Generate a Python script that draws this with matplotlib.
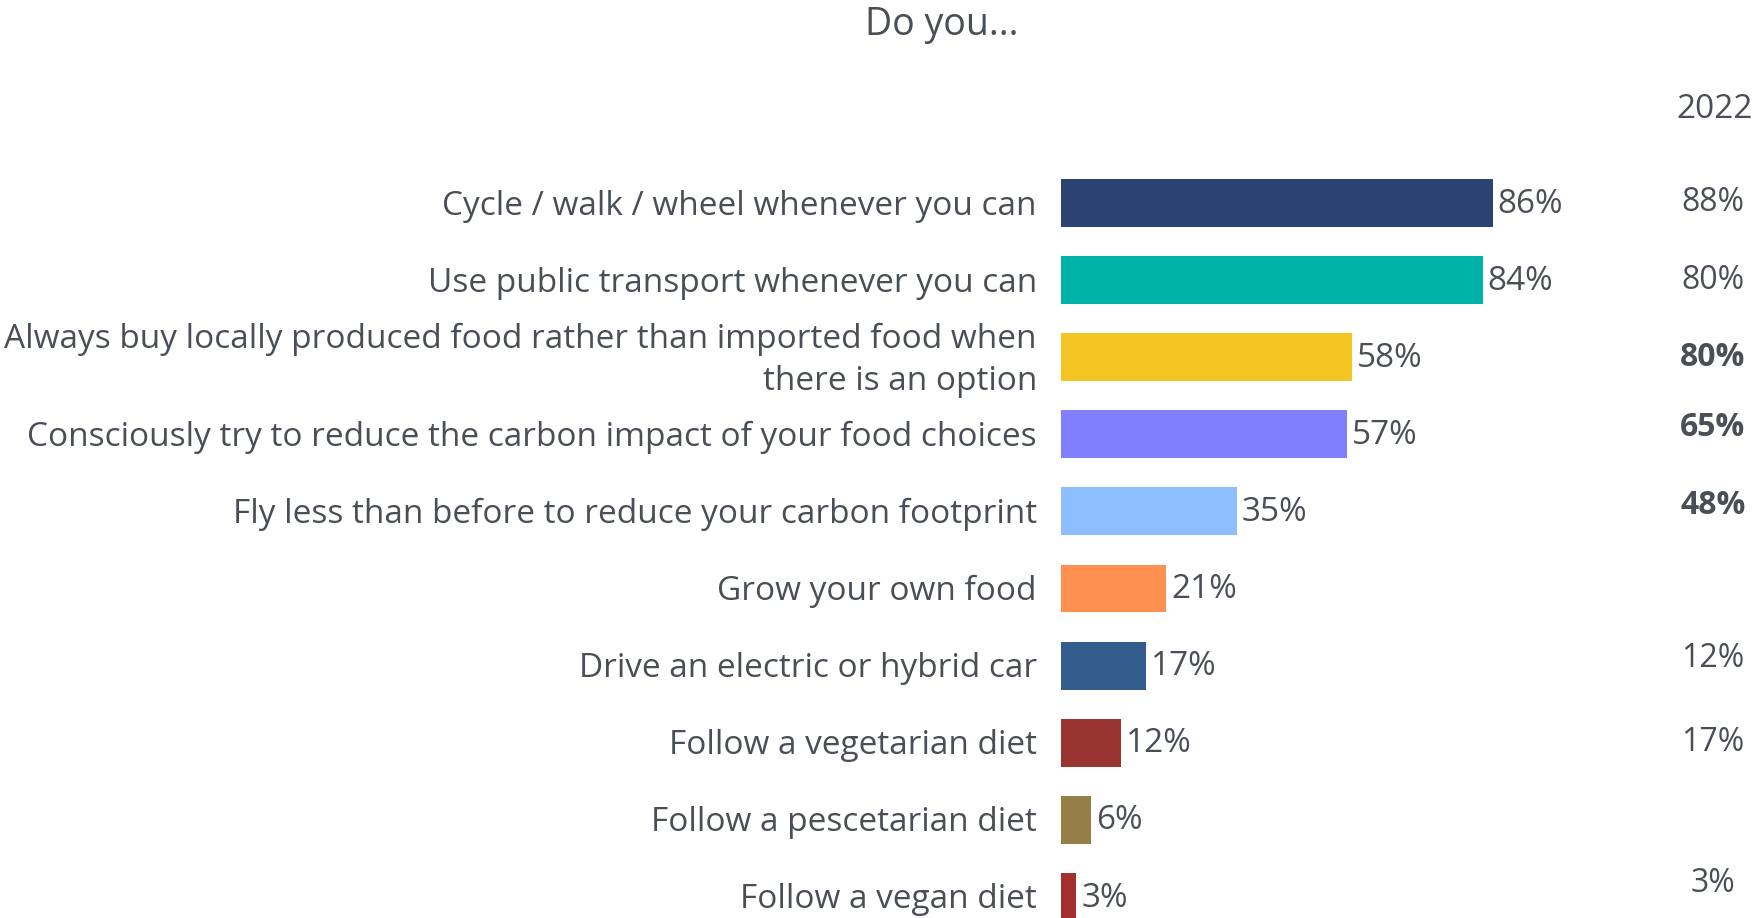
import matplotlib
matplotlib.use("Agg")
import matplotlib.pyplot as plt

plt.rcParams['font.family'] = ['Open Sans', 'DejaVu Sans']

categories = [
    "Cycle / walk / wheel whenever you can",
    "Use public transport whenever you can",
    "Always buy locally produced food rather than imported food when\nthere is an option",
    "Consciously try to reduce the carbon impact of your food choices",
    "Fly less than before to reduce your carbon footprint",
    "Grow your own food",
    "Drive an electric or hybrid car",
    "Follow a vegetarian diet",
    "Follow a pescetarian diet",
    "Follow a vegan diet",
]
values = [86, 84, 58, 57, 35, 21, 17, 12, 6, 3]
colors = ["#2c4372", "#00b3a8", "#f4c423", "#8080fe", "#8dbffe",
          "#fe9151", "#335d8d", "#9a3431", "#967f46", "#a3302f"]
labels_2022 = ["88%", "80%", "80%", "65%", "48%", "", "12%", "17%", "", "3%"]
bold_2022 = [False, False, True, True, True, False, False, False, False, False]
offset_2022 = [0, 0, 0, -0.09, -0.08, 0, -0.09, 0, 0, -0.17]

TXT = "#4a4f57"
W, H = 1758, 918
fig = plt.figure(figsize=(W/100, H/100), dpi=100)

left = 1061 / W
width = 502 / W
row0 = 203
step = 77.1
top_px = row0 - step/2
bot_px = row0 + 9*step + step/2
ax = fig.add_axes([left, 1 - bot_px/H, width, (bot_px - top_px)/H])
ax.set_xlim(0, 100)
ax.set_ylim(9.5, -0.5)
ax.axis('off')

y = list(range(len(values)))
ax.barh(y, values, height=0.62, color=colors)
for i, v in enumerate(values):
    ax.text(v + 1.0, i + 0.015, f"{v}%", va='center', ha='left', fontsize=24, color=TXT)
    ax.text(-4.8, i + 0.04, categories[i], va='center', ha='right', fontsize=24,
            color=TXT, linespacing=1.35)
    if labels_2022[i]:
        xr = (1713 - 1061) / 502 * 100
        ax.text(xr, i + offset_2022[i], labels_2022[i], va='center', ha='center',
                fontsize=23, color=TXT,
                fontweight='bold' if bold_2022[i] else 'normal', clip_on=False)

fig.text(1715 / W, 1 - 110 / H, "2022", ha='center', va='center', fontsize=24, color=TXT)
fig.text(942 / W, 1 - 25 / H, "Do you...", ha='center', va='center', fontsize=27, color=TXT)

fig.savefig("out.png", dpi=100)
